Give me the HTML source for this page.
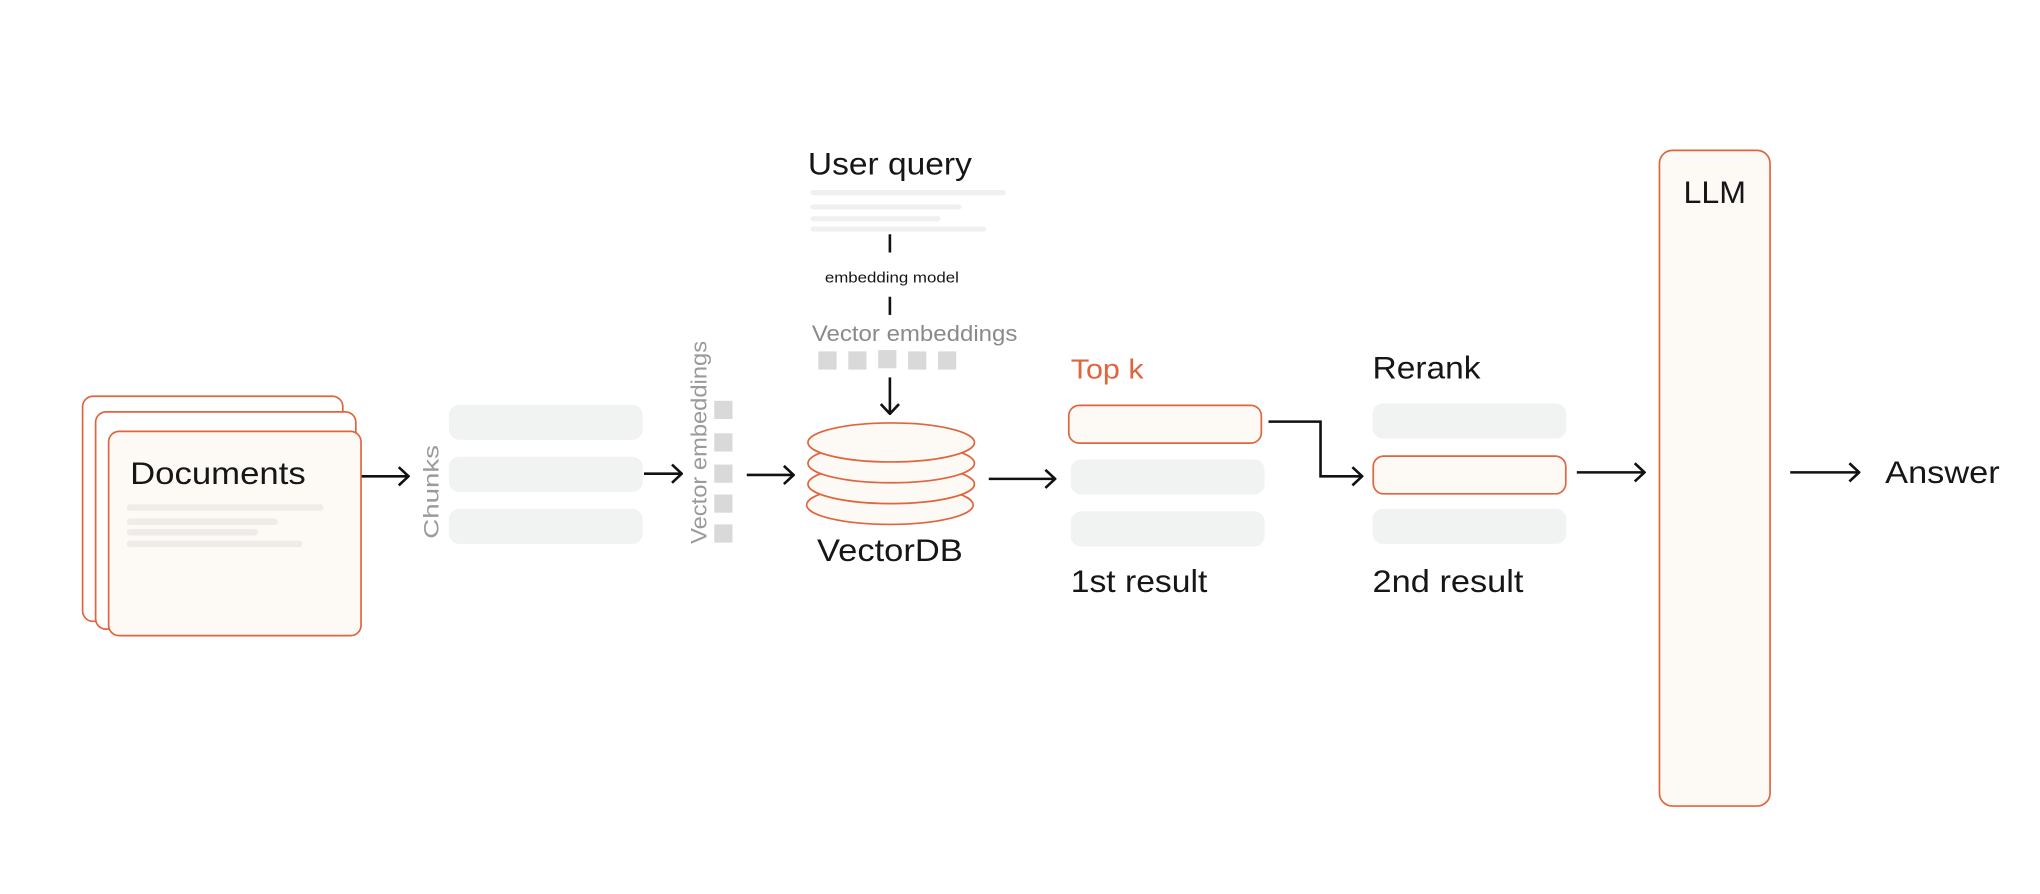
<!DOCTYPE html>
<html><head><meta charset="utf-8"><style>
html,body{margin:0;padding:0;background:#fff;}
svg{display:block;}
text{font-family:"Liberation Sans",sans-serif;}
</style></head><body>
<svg width="2040" height="894" viewBox="0 0 1568 687" xmlns="http://www.w3.org/2000/svg">
<defs>
<marker id="ah" viewBox="0 0 10 16" refX="9" refY="8" markerWidth="10" markerHeight="16" markerUnits="userSpaceOnUse" orient="auto">
<path d="M1.5,1 L9,8 L1.5,15" fill="none" stroke="#111" stroke-width="2"/>
</marker>
</defs>
<rect width="1568" height="687" fill="#fff"/>
<g stroke="#e0653d" stroke-width="1.3" fill="#fff">
<rect x="63.5" y="304.5" width="200" height="173" rx="8"/>
<rect x="73.5" y="316.5" width="200" height="167" rx="8"/>
<rect x="83.5" y="331.5" width="194" height="157" rx="8" fill="#fdfaf6"/>
</g>
<text x="100" y="372" font-size="24" fill="#161616" textLength="135" lengthAdjust="spacingAndGlyphs">Documents</text>
<g stroke="#eeebe8" stroke-width="5" stroke-linecap="round">
<line x1="100" y1="390" x2="246" y2="390"/>
<line x1="100" y1="401" x2="211" y2="401"/>
<line x1="100" y1="409" x2="196" y2="409"/>
<line x1="100" y1="418" x2="230" y2="418"/>
</g>
<g stroke="#111" stroke-width="2" fill="none" marker-end="url(#ah)">
<line x1="278" y1="366" x2="314" y2="366"/>
<line x1="495" y1="364" x2="524" y2="364"/>
<line x1="574" y1="365" x2="610" y2="365"/>
<line x1="684" y1="290" x2="684" y2="318"/>
<line x1="760" y1="368" x2="811" y2="368"/>
<polyline points="975,324 1015,324 1015,366 1047,366"/>
<line x1="1212" y1="363" x2="1264" y2="363"/>
<line x1="1376" y1="363" x2="1429" y2="363"/>
</g>
<text transform="translate(337,378) rotate(-90)" text-anchor="middle" font-size="16" fill="#9a9a9a" textLength="72" lengthAdjust="spacingAndGlyphs">Chunks</text>
<g fill="#f1f2f2">
<rect x="345" y="311" width="149" height="27" rx="8"/>
<rect x="345" y="351" width="149" height="27" rx="8"/>
<rect x="345" y="391" width="149" height="27" rx="8"/>
</g>
<text transform="translate(543,340) rotate(-90)" text-anchor="middle" font-size="17" fill="#9a9a9a" textLength="156" lengthAdjust="spacingAndGlyphs">Vector embeddings</text>
<g fill="#d9d9d9">
<rect x="549" y="308" width="14" height="14"/>
<rect x="549" y="333" width="14" height="14"/>
<rect x="549" y="357" width="14" height="14"/>
<rect x="549" y="380" width="14" height="14"/>
<rect x="549" y="403" width="14" height="14"/>
</g>
<text x="621" y="134" font-size="24" fill="#161616" textLength="126" lengthAdjust="spacingAndGlyphs">User query</text>
<g stroke="#f0f0f0" stroke-width="4" stroke-linecap="round">
<line x1="625" y1="148" x2="771" y2="148"/>
<line x1="625" y1="159" x2="737" y2="159"/>
<line x1="625" y1="168" x2="721" y2="168"/>
<line x1="625" y1="176" x2="756" y2="176"/>
</g>
<line x1="684" y1="180" x2="684" y2="194" stroke="#111" stroke-width="2"/>
<text x="634" y="217" font-size="11" fill="#161616" textLength="103" lengthAdjust="spacingAndGlyphs">embedding model</text>
<line x1="684" y1="228" x2="684" y2="242" stroke="#111" stroke-width="2"/>
<text x="624" y="262" font-size="17" fill="#8a8a8a" textLength="158" lengthAdjust="spacingAndGlyphs">Vector embeddings</text>
<g fill="#d9d9d9">
<rect x="629" y="270" width="14" height="14"/>
<rect x="652" y="270" width="14" height="14"/>
<rect x="675" y="269" width="14" height="14"/>
<rect x="698" y="270" width="14" height="14"/>
<rect x="721" y="270" width="14" height="14"/>
</g>
<g fill="#fdfaf6" stroke="#e0653d" stroke-width="1.3">
<ellipse cx="684" cy="388" rx="64" ry="15"/>
<ellipse cx="685" cy="372" rx="64" ry="15"/>
<ellipse cx="685" cy="356" rx="64" ry="15"/>
<ellipse cx="685" cy="340" rx="64" ry="15"/>
</g>
<text x="628" y="431" font-size="24" fill="#161616" textLength="112" lengthAdjust="spacingAndGlyphs">VectorDB</text>
<text x="823" y="291" font-size="21" fill="#e0653d" textLength="56" lengthAdjust="spacingAndGlyphs">Top k</text>
<rect x="821.5" y="311.5" width="148" height="29" rx="8" fill="#fdfaf6" stroke="#e0653d" stroke-width="1.3"/>
<rect x="823" y="353" width="149" height="27" rx="8" fill="#f1f2f2"/>
<rect x="823" y="393" width="149" height="27" rx="8" fill="#f1f2f2"/>
<text x="823" y="455" font-size="24" fill="#161616" textLength="105" lengthAdjust="spacingAndGlyphs">1st result</text>
<text x="1055" y="291" font-size="24" fill="#161616" textLength="83" lengthAdjust="spacingAndGlyphs">Rerank</text>
<rect x="1055" y="310" width="149" height="27" rx="8" fill="#f1f2f2"/>
<rect x="1055.5" y="350.5" width="148" height="29" rx="8" fill="#fdfaf6" stroke="#e0653d" stroke-width="1.3"/>
<rect x="1055" y="391" width="149" height="27" rx="8" fill="#f1f2f2"/>
<text x="1055" y="455" font-size="24" fill="#161616" textLength="116" lengthAdjust="spacingAndGlyphs">2nd result</text>
<rect x="1275.5" y="115.5" width="85" height="504" rx="10" fill="#fdfaf6" stroke="#e0653d" stroke-width="1.3"/>
<text x="1294" y="156" font-size="24" fill="#161616" textLength="48" lengthAdjust="spacingAndGlyphs">LLM</text>
<text x="1449" y="371" font-size="24" fill="#161616" textLength="88" lengthAdjust="spacingAndGlyphs">Answer</text>
</svg>
</body></html>
